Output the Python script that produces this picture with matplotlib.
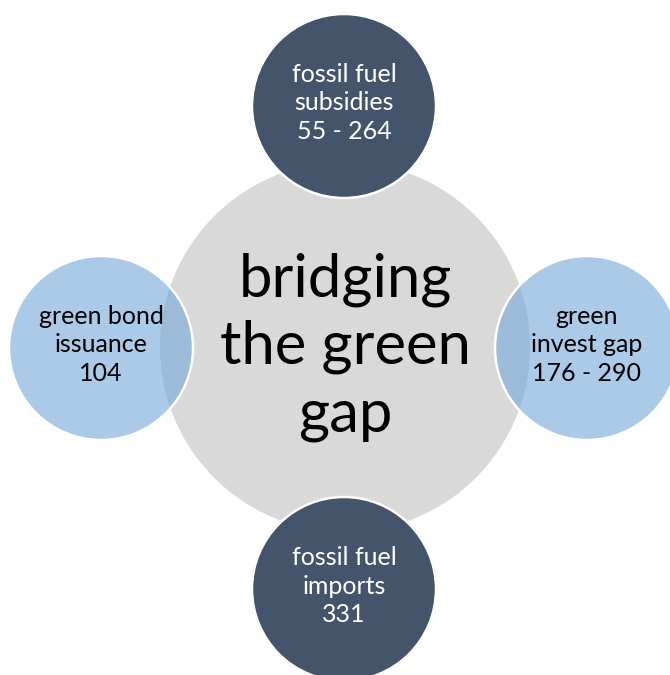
import matplotlib
matplotlib.use("Agg")
import matplotlib.pyplot as plt
from matplotlib.patches import Circle

# Diagram content
center_label = "bridging\nthe green\ngap"
node_names = ["fossil fuel\nsubsidies", "green\ninvest gap", "fossil fuel\nimports", "green bond\nissuance"]
node_values = ["55 - 264", "176 - 290", "331", "104"]
node_kinds = ["dark", "light", "dark", "light"]

# Layout (pixel space, y downwards)
W, H = 670, 675
hub_xy, hub_r = (345, 347), 185
node_xy = [(344, 106), (587, 348), (344, 589), (101, 348)]
node_r = 92

fig = plt.figure(figsize=(W / 100, H / 100), dpi=100)
ax = fig.add_axes([0, 0, 1, 1])
ax.set_xlim(0, W)
ax.set_ylim(H, 0)
ax.set_aspect("equal")
ax.axis("off")

plt.rcParams["font.family"] = ["Lato", "DejaVu Sans"]

ax.add_patch(Circle(hub_xy, hub_r, facecolor="#d9d9d9", edgecolor="none", zorder=1))
ax.text(hub_xy[0], hub_xy[1], center_label, ha="center", va="center",
        fontsize=43, color="black", linespacing=1.3, zorder=5)

styles = {
    "dark": dict(face="#44546a", alpha=1.0, text="white", z=2),
    "light": dict(face="#73a7d9", alpha=0.6, text="black", z=3),
}

for (x, y), name, val, kind in zip(node_xy, node_names, node_values, node_kinds):
    s = styles[kind]
    ax.add_patch(Circle((x, y), node_r, facecolor=s["face"], alpha=s["alpha"],
                        edgecolor="none", zorder=s["z"]))
    ax.add_patch(Circle((x, y), node_r, facecolor="none", edgecolor="white",
                        linewidth=1.8, zorder=s["z"] + 0.1))
    ax.text(x, y - 3, f"{name}\n{val}", ha="center", va="center", fontsize=18,
            color=s["text"], linespacing=1.3, zorder=6)

fig.savefig("out.png", dpi=100)
